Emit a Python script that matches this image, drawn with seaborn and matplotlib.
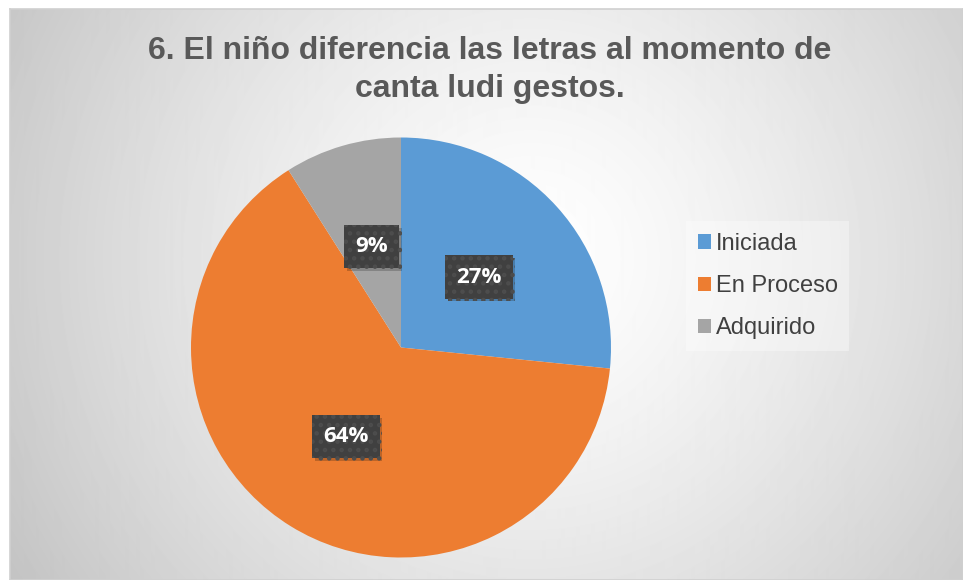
import numpy as np
import matplotlib
matplotlib.use("Agg")
import matplotlib.pyplot as plt
import matplotlib.patheffects as pe
import seaborn as sns

# Data (percent shares)
categories = ["Iniciada", "En Proceso", "Adquirido"]
shares = [26.6, 64.4, 9.0]
colors = ["#5B9BD5", "#ED7D31", "#A5A5A5"]
title = "6. El niño diferencia las letras al momento de\ncanta ludi gestos."

sns.set_theme(style="white")
plt.rcParams["font.family"] = ["Liberation Sans", "DejaVu Sans"]
plt.rcParams["hatch.linewidth"] = 2.0

fig = plt.figure(figsize=(9.63, 5.8), dpi=100)
fig.patch.set_facecolor("white")

# ----------------- BACKGROUND -----------------
bg = fig.add_axes([10 / 963, 0, 953 / 963, 571 / 580])
h, w = 571, 953
yy, xx = np.mgrid[0:h, 0:w]
d = np.sqrt((xx - 520) ** 2 + (yy - 250) ** 2) / 620.0
shade = 1.0 - 0.24 * np.clip(d, 0, 1) ** 1.3
bg.imshow(shade, cmap="gray", vmin=0, vmax=1, aspect="auto",
          extent=[0, w, h, 0], interpolation="bilinear")
bg.set_xlim(0, w)
bg.set_ylim(h, 0)
bg.set_xticks([])
bg.set_yticks([])
for s in bg.spines.values():
    s.set_color("#d0d0d0")
    s.set_linewidth(1.2)

# ----------------- PIE -----------------
r = 210
cx, cy = 401, 347.5
ax = fig.add_axes([(cx - r) / 963, 1 - (cy + r) / 580, 2 * r / 963, 2 * r / 580])
ax.set_facecolor("none")

wedges, texts, autotexts = ax.pie(
    shares, colors=colors, startangle=90, counterclock=False,
    autopct=lambda p: f"{p:.0f}%", pctdistance=0.5,
    wedgeprops=dict(linewidth=0),
    textprops=dict(color="white", fontsize=16, fontweight="bold",
                   family=["Open Sans", "DejaVu Sans"]),
)
ax.set_xlim(-1, 1)
ax.set_ylim(-1, 1)
ax.set_aspect("equal")

for t in autotexts:
    t.set_bbox(dict(boxstyle="square,pad=0.5", fc="#404040", ec="#4d4d4d",
                    lw=0, hatch=".."))
    t.get_bbox_patch().set_path_effects(
        [pe.SimplePatchShadow(offset=(2, -2), shadow_rgbFace="black", alpha=0.2),
         pe.Normal()])

# ----------------- TITLE -----------------
fig.text(490 / 963, 1 - 70 / 580, title, ha="center", va="center",
         fontsize=23, fontweight="bold", color="#595959", linespacing=1.35)

# ----------------- LEGEND -----------------
leg = fig.legend(wedges, categories, loc="center left",
                 bbox_to_anchor=(686 / 963, 1 - 286 / 580), borderaxespad=0,
                 frameon=True, fontsize=17, handlelength=0.55, handleheight=0.55,
                 handletextpad=0.2, labelspacing=0.85, borderpad=0.5,
                 fancybox=False, labelcolor="#404040")
leg.get_frame().set_facecolor("white")
leg.get_frame().set_alpha(0.35)
leg.get_frame().set_edgecolor("none")

plt.savefig("out.png", dpi=100, facecolor=fig.get_facecolor())
